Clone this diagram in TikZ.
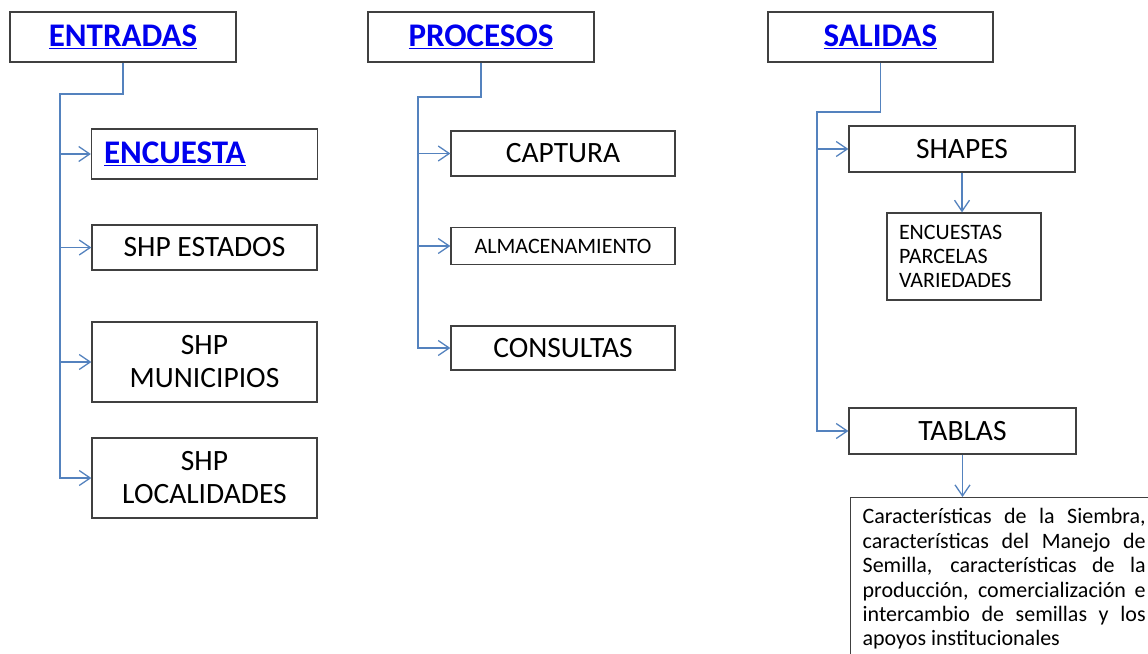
\documentclass[tikz,border=0pt]{standalone}
\usepackage{fontspec}
\setmainfont{Carlito}
\usetikzlibrary{arrows.meta}
\usepackage{xcolor}
\definecolor{myline}{RGB}{84,130,190}
\definecolor{mylink}{RGB}{0,0,238}
\definecolor{myframe}{RGB}{64,64,64}
\tikzset{
  box/.style={draw=myframe, line width=1.3pt, inner sep=0pt, align=center, font=\fontsize{29.5}{33}\selectfont},
  box head/.style={box, minimum width=226pt, minimum height=50pt, text=mylink, font=\fontsize{33}{37}\selectfont\bfseries},
  box small/.style={box, font=\fontsize{22}{24.4}\selectfont},
  connect/.style={myline, line width=1.3pt},
  arrow/.style={connect, -{Straight Barb[length=11pt,width=15pt]}}
}
\newcommand{\link}[1]{\underline{#1}}

\begin{document}
\begin{tikzpicture}[x=1pt,y=-1pt]
  \useasboundingbox (0,0) rectangle (1148,653);

  % --- COLUMN 1: ENTRADAS ---
  \node[box head] (E-head) at (123, 37) {\link{ENTRADAS}};
  \node[box head, text width=201pt, inner xsep=12pt, align=left, minimum height=50pt] (E-1) at (204.5, 154) {\link{ENCUESTA}};
  \node[box, minimum width=225pt, minimum height=45pt] (E-2) at (204.5, 247.5) {SHP ESTADOS};
  \node[box, minimum width=225pt, minimum height=80pt] (E-3) at (204.5, 362) {SHP\\MUNICIPIOS};
  \node[box, minimum width=225pt, minimum height=80pt] (E-4) at (204.5, 478) {SHP\\LOCALIDADES};
  \coordinate (E-bend) at (60, 94);

  \draw[arrow] (E-head.south) |- (E-bend) |- (E-4.west);
  \foreach \i in {1,2,3} \draw[arrow] (E-bend |- E-\i.west) -- (E-\i.west);

  % --- COLUMN 2: PROCESOS ---
  \node[box head] (P-head) at (481, 37) {\link{PROCESOS}};
  \node[box, minimum width=224pt, minimum height=45pt] (P-1) at (563, 153.5) {CAPTURA};
  \node[box small, minimum width=224pt, minimum height=37pt] (P-2) at (563, 246) {ALMACENAMIENTO};
  \node[box, minimum width=224pt, minimum height=44pt] (P-3) at (563, 348) {CONSULTAS};
  \coordinate (P-bend) at (418, 97);

  \draw[arrow] (P-head.south) |- (P-bend) |- (P-3.west);
  \foreach \i in {1,2} \draw[arrow] (P-bend |- P-\i.west) -- (P-\i.west);

  % --- COLUMN 3: SALIDAS ---
  \node[box head, minimum width=225pt] (S-head) at (880.5, 37) {\link{SALIDAS}};
  \node[box, minimum width=226pt, minimum height=46pt] (S-1) at (962, 149) {SHAPES};
  \node[box, minimum width=227pt, minimum height=46pt] (S-2) at (962.5, 431) {TABLAS};
  \coordinate (S-bend) at (817, 112);

  \draw[arrow] (S-head.south) |- (S-bend) |- (S-2.west);
  \draw[arrow] (S-bend |- S-1.west) -- (S-1.west);

  % details below SHAPES and TABLAS
  \node[box small, text width=130pt, inner xsep=12pt, minimum height=87pt, align=left] (S-list) at (964, 256.5) {ENCUESTAS\\PARCELAS\\VARIEDADES};
  \node[box small, anchor=north west, text width=283pt, inner xsep=12pt, inner ysep=11pt, align=justify] (S-detail) at (850, 497)
    {Características de la Siembra,\linebreak características del Manejo de\linebreak Semilla, características de la\linebreak producción, comercialización e\linebreak intercambio de semillas y los\linebreak apoyos institucionales};

  \draw[arrow] (S-1.south) -- (S-1.south |- S-list.north);
  \draw[arrow] (S-2.south) -- (S-2.south |- S-detail.north);

\end{tikzpicture}
\end{document}
